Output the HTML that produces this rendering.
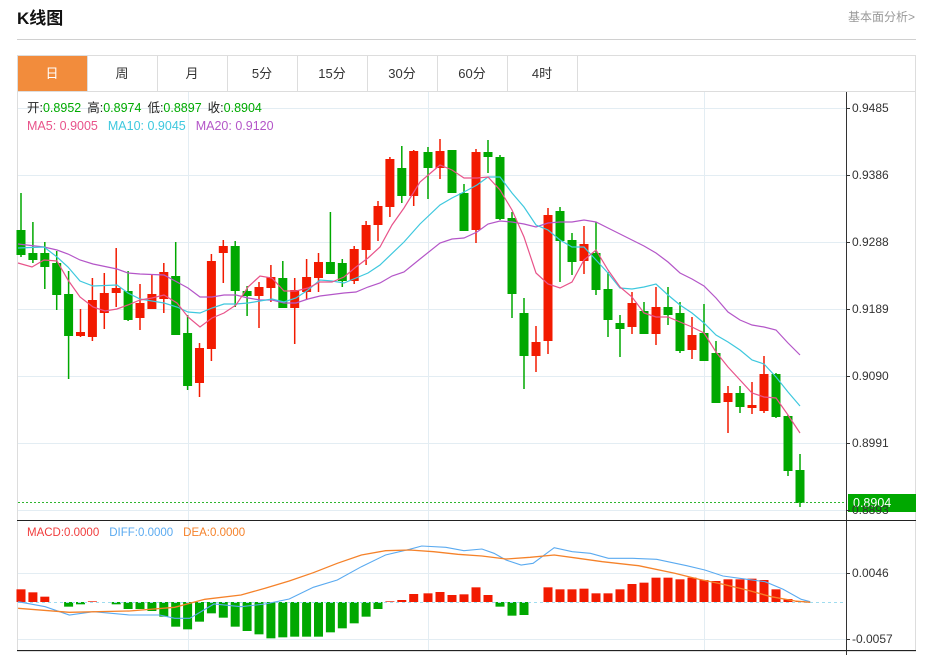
<!DOCTYPE html>
<html><head><meta charset="utf-8">
<style>
html,body{margin:0;padding:0;background:#fff;width:931px;height:655px;overflow:hidden;font-family:"Liberation Sans","Noto Sans CJK SC",sans-serif;}
svg{position:absolute;left:0;top:0;}
</style></head><body>
<svg id="s" width="931" height="655" xmlns="http://www.w3.org/2000/svg" font-family="Liberation Sans, Noto Sans CJK SC, sans-serif">
<text x="17" y="24" font-size="17" font-weight="bold" fill="#111">K线图</text>
<text x="915" y="21" font-size="12" fill="#999" text-anchor="end">基本面分析&gt;</text>
<line x1="17" y1="39.5" x2="916" y2="39.5" stroke="#d0d0d0"/>
<rect x="17.5" y="55.5" width="898" height="596" fill="none" stroke="#ddd"/>
<line x1="17" y1="91.5" x2="916" y2="91.5" stroke="#ddd"/>
<rect x="18" y="56" width="69" height="35" fill="#f28c3c"/>
<g font-size="13" text-anchor="middle" fill="#333">
<text x="52" y="78" fill="#fff">日</text>
<text x="122" y="78">周</text><text x="192" y="78">月</text><text x="262" y="78">5分</text>
<text x="332" y="78">15分</text><text x="402" y="78">30分</text><text x="472" y="78">60分</text><text x="542" y="78">4时</text>
</g>
<g stroke="#ddd"><line x1="87.5" y1="56" x2="87.5" y2="91"/><line x1="157.5" y1="56" x2="157.5" y2="91"/><line x1="227.5" y1="56" x2="227.5" y2="91"/><line x1="297.5" y1="56" x2="297.5" y2="91"/><line x1="367.5" y1="56" x2="367.5" y2="91"/><line x1="437.5" y1="56" x2="437.5" y2="91"/><line x1="507.5" y1="56" x2="507.5" y2="91"/><line x1="577.5" y1="56" x2="577.5" y2="91"/></g>
<g id="grid" stroke="#e3edf3" stroke-width="1"></g>
<g id="main"></g>
<g id="macd"></g>
<line x1="846.5" y1="92" x2="846.5" y2="655" stroke="#333"/>
<line x1="17" y1="520.5" x2="916" y2="520.5" stroke="#222"/>
<line x1="17" y1="650.5" x2="916" y2="650.5" stroke="#222"/>
<g font-size="12" fill="#333" id="axis"></g>
<text x="27" y="112" font-size="12.5"><tspan fill="#222">开:</tspan><tspan fill="#0a0">0.8952</tspan><tspan fill="#222" dx="6">高:</tspan><tspan fill="#0a0">0.8974</tspan><tspan fill="#222" dx="6">低:</tspan><tspan fill="#0a0">0.8897</tspan><tspan fill="#222" dx="6">收:</tspan><tspan fill="#0a0">0.8904</tspan></text>
<text x="27" y="130" font-size="12.5"><tspan fill="#e8538a">MA5: 0.9005</tspan><tspan fill="#3ec8de" dx="10">MA10: 0.9045</tspan><tspan fill="#b456c8" dx="10">MA20: 0.9120</tspan></text>
<text x="27" y="536" font-size="11.5"><tspan fill="#f03c3c">MACD:0.0000</tspan><tspan fill="#5aaaf0" dx="10">DIFF:0.0000</tspan><tspan fill="#f5822a" dx="10">DEA:0.0000</tspan></text>
</svg>
<script>
var NS="http://www.w3.org/2000/svg";
function el(p,t,a){var e=document.createElementNS(NS,t);for(var k in a)e.setAttribute(k,a[k]);document.getElementById(p).appendChild(e);return e;}
[108,175,242,309,376,443,510].forEach(function(y){el("grid","line",{x1:18,x2:846,y1:y+.5,y2:y+.5});});
[573,639].forEach(function(y){el("grid","line",{x1:18,x2:846,y1:y+.5,y2:y+.5});});
[188,428,704].forEach(function(x){el("grid","line",{x1:x+.5,x2:x+.5,y1:92,y2:650});});
var labs=[[108,"0.9485"],[175,"0.9386"],[242,"0.9288"],[309,"0.9189"],[376,"0.9090"],[443,"0.8991"],[510,"0.8893"],[573,"0.0046"],[639,"-0.0057"]];
labs.forEach(function(l){el("axis","line",{x1:846,x2:850,y1:l[0]+.5,y2:l[0]+.5,stroke:"#333"});var t=el("axis","text",{x:852,y:l[0]+4});t.textContent=l[1];});
var C=[[0,230,255,193,257],[0,253,260,222,263],[0,253,267,242,289],[0,263,295,251,310],[0,294,336,271,379],[1,332,336,309,337],[1,300,337,278,341],[1,293,313,273,329],[1,288,293,248,307],[0,291,320,271,321],[1,303,318,284,330],[1,294,309,275,309],[1,272,299,263,313],[0,276,335,242,335],[0,333,386,315,390],[1,348,383,343,397],[1,261,349,254,361],[1,246,253,240,283],[0,246,291,241,307],[0,291,296,286,316],[1,287,296,282,328],[1,277,288,265,302],[0,278,308,261,308],[1,290,308,278,344],[1,277,292,259,300],[1,262,278,253,292],[0,262,274,212,274],[0,263,281,259,287],[1,249,281,246,284],[1,225,250,221,265],[1,206,225,201,241],[1,159,207,157,217],[0,168,196,146,203],[1,151,196,150,206],
[0,152,168,147,199],[1,151,168,139,179],[0,150,193,150,193],[0,193,231,184,231],[1,152,230,149,243],[0,152,157,140,173],[0,157,219,155,220],[0,218,294,212,318],[0,313,356,298,389],[1,342,356,326,372],[1,215,341,208,354],[0,211,241,207,282],[0,240,262,233,275],[1,244,261,226,274],[0,253,290,222,295],[0,289,320,272,337],[0,323,329,315,357],[1,303,327,292,334],[0,311,334,302,334],[1,307,334,287,345],[0,307,315,287,325],[0,313,351,302,353],[1,335,350,317,359],[0,333,361,304,361],[0,353,403,341,403],[1,393,402,386,433],[0,393,407,386,413],[1,405,408,382,414],[1,374,411,356,413],[0,374,417,373,418],[0,416,471,415,476],[0,470,503,454,507]];
function cx(i){return i<34?21+i*11.9:428+(i-34)*12;}
C.forEach(function(c,i){var x=cx(i),col=c[0]?"#f21a00":"#00a800";
el("main","line",{x1:x,x2:x,y1:c[3],y2:c[4],stroke:col,"stroke-width":1.5});
el("main","rect",{x:x-4.5,y:c[1],width:9,height:Math.max(2,c[2]-c[1]),fill:col});});
function pl(g,pts,col,w){el(g,"polyline",{points:pts,fill:"none",stroke:col,"stroke-width":w||1.2});}
pl("main","18,244 44,247 57,250 68,254 80,260 93,264 117,269 128,273 140,274 164,275 177,282 188,288 200,297 212,297 224,295 236,295 248,298 260,300 272,300 284,303 296,303 308,299 320,296 344,293 356,292 368,287 380,283 392,276 404,272 420,259 440,243 452,239 464,238 477,232 488,224 500,221 512,222 524,224 536,227 548,223 560,222 572,222 584,220 596,222 608,228 620,234 632,240 644,246 656,253 668,262 680,273 692,279 704,286 716,298 728,312 740,320 752,325 764,327 776,330 788,343 800,355","#b456c8");
pl("main","18,248 44,247 57,257 68,267 80,281 93,286 117,285 128,293 140,299 164,303 177,307 188,312 200,313 212,308 224,304 236,304 248,303 272,299 284,302 296,298 308,290 320,280 332,281 344,283 356,278 368,273 380,265 404,242 420,224 440,205 452,198 464,192 477,185 488,177 500,177 512,193 524,207 536,225 548,230 560,240 572,247 584,247 596,260 608,273 620,288 632,289 644,287 656,284 668,295 680,305 692,313 704,323 716,335 728,342 740,350 752,360 764,364 776,377 788,392 800,406","#3ec8de");
pl("main","18,263 32,267 44,260 57,261 68,280 80,297 93,307 105,311 117,309 128,305 140,300 152,298 164,295 177,303 188,317 200,327 212,318 224,313 236,305 248,287 260,276 272,278 284,291 296,291 308,288 320,282 332,282 344,277 356,267 368,258 380,247 392,225 404,208 420,182 440,165 452,170 464,178 477,178 488,177 500,190 512,210 524,237 536,273 548,284 560,288 572,282 584,260 596,250 608,270 620,287 632,297 644,313 656,317 668,317 680,322 692,327 704,333 716,352 728,367 740,380 752,393 764,397 776,398 788,415 800,433","#e8538a");
el("main","line",{x1:18,x2:846,y1:502.5,y2:502.5,stroke:"#2fb52f","stroke-dasharray":"2,2"});
el("main","rect",{x:848,y:494,width:68,height:18,fill:"#00a800"});
var t=el("main","text",{x:853,y:507,fill:"#fff","font-size":12.5});t.textContent="0.8904";
var B=[268,277,290,307,320,313,304,307,313,327,327,333,350,380,388,365,340,353,380,393,403,415,412,410,410,410,397,385,370,350,327,304,300,282,280,276,285,283,262,285,320,347,345,307,262,268,268,266,280,280,268,252,248,233,233,238,233,240,243,238,238,236,240,268,297,303];
var Z=602;
B.forEach(function(v,i){var y=500+v/3,x=cx(i);if(Math.abs(y-Z)<0.5)return;
el("macd","rect",{x:x-4.5,y:Math.min(y,Z),width:9,height:Math.abs(y-Z),fill:y<Z?"#f21a00":"#00a800"});});
el("macd","line",{x1:18,x2:846,y1:Z+.5,y2:Z+.5,stroke:"#9fdcef","stroke-dasharray":"3,3"});
function conv(s){return s.split(" ").map(function(p){var a=p.split(",");return (a[0]/1.66).toFixed(1)+","+(500+a[1]/3).toFixed(1);}).join(" ");}
pl("macd",conv("30,305 75,320 115,345 155,335 215,345 265,345 290,355 315,355 355,312 400,320 440,312 480,297 520,262 560,240 600,200 640,165 680,148 700,138 740,142 770,152 800,147 820,160 840,180 865,195 885,190 920,143 950,155 980,160 1010,175 1050,175 1090,178 1140,197 1170,210 1200,228 1240,238 1270,245 1300,268 1330,298 1345,305"),"#5aaaf0",1.1);
pl("macd",conv("30,325 115,337 215,333 290,322 340,298 400,285 440,265 480,243 520,218 560,190 600,165 640,152 680,150 720,155 760,163 800,168 840,177 880,172 920,165 960,175 1000,185 1060,197 1120,220 1160,238 1200,253 1240,270 1280,290 1320,303 1345,307"),"#f5822a",1.3);
</script>
</body></html>
